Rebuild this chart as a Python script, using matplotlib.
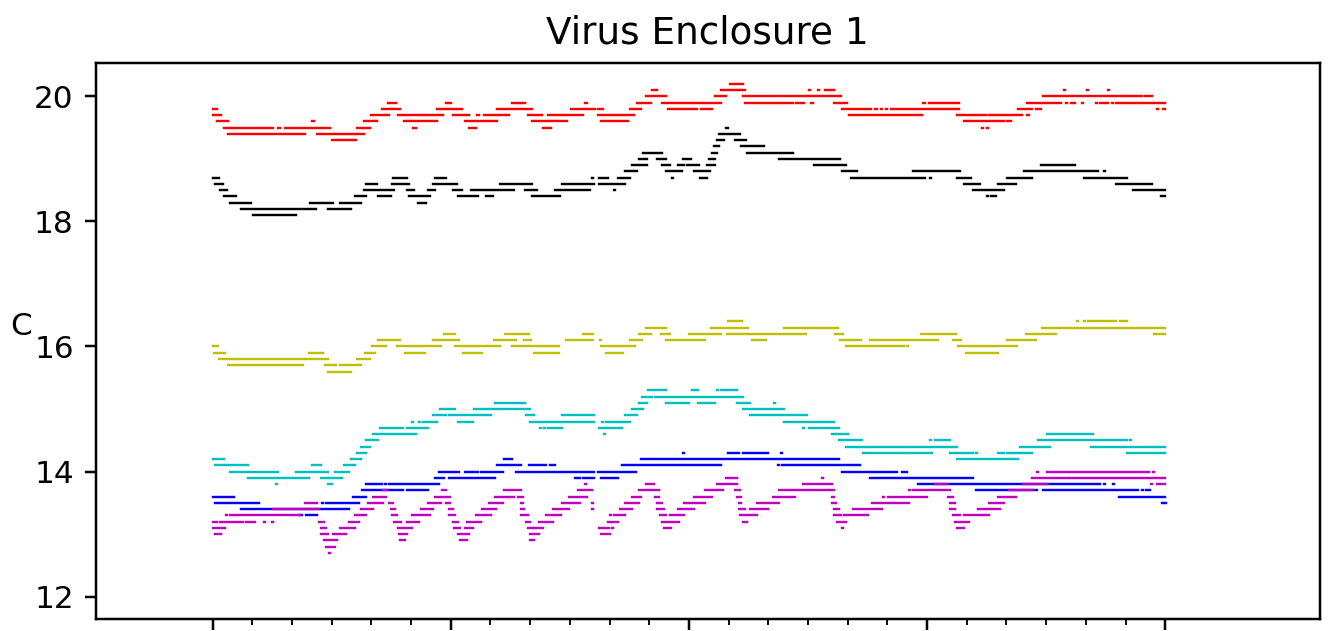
import matplotlib
matplotlib.use("Agg")
import matplotlib.pyplot as plt

# Time axis in hours since start (4 days); temperatures in degrees C.
# Each run: (start_hour, end_hour, temperature) of a stretch of readings at one level.
TITLE = "Virus Enclosure 1"
YLABEL = "C"
Y_TICKS = [12, 14, 16, 18, 20]
X_MAJOR = [0, 24, 48, 72, 96]
X_MINOR = [h for h in range(4, 96, 4) if h % 24 != 0]

RED_RUNS = [
    (0, 0.4, 19.8), (0, 0.8, 19.7), (0.4, 1.6, 19.6),
    (1.1, 5.4, 19.5), (5.6, 6.1, 19.5), (6.6, 6.8, 19.5), (7.3, 11.8, 19.5),
    (1.6, 9.3, 19.4), (10.0, 10.2, 19.6), (10.5, 15.3, 19.4),
    (12.0, 13.2, 19.3), (13.4, 14.1, 19.3), (14.3, 14.5, 19.3),
    (14.1, 14.2, 19.5), (14.6, 15.9, 19.5), (15.3, 16.6, 19.6), (16.0, 17.8, 19.7),
    (17.1, 18.9, 19.8), (17.7, 18.5, 19.9), (18.7, 23.2, 19.7), (19.3, 22.6, 19.6),
    (20.2, 20.5, 19.5), (22.6, 25.1, 19.8), (23.5, 24.0, 19.9), (24.2, 25.8, 19.7),
    (25.4, 28.1, 19.6), (25.8, 26.5, 19.5), (26.6, 26.8, 19.7), (27.4, 29.5, 19.7),
    (29.7, 29.9, 19.7), (28.3, 28.7, 19.6), (28.7, 32.2, 19.8), (30.2, 31.5, 19.9),
    (31.8, 33.2, 19.7), (33.8, 35.0, 19.7), (35.2, 37.3, 19.7), (32.2, 35.7, 19.6),
    (33.3, 34.1, 19.5), (36.1, 38.5, 19.8), (37.5, 37.7, 19.9), (38.8, 39.3, 19.8),
    (38.8, 40.7, 19.7), (40.9, 42.5, 19.7), (39.1, 41.9, 19.6), (42.1, 43.2, 19.8),
    (42.8, 44.2, 19.9), (43.7, 45.7, 20.0), (44.3, 44.8, 20.1), (45.3, 51.2, 19.9),
    (45.9, 48.8, 19.8), (49.2, 50.3, 19.8), (50.6, 51.7, 20.0), (51.2, 53.7, 20.1),
    (52.1, 53.5, 20.2), (53.7, 58.5, 19.9), (58.8, 59.6, 19.9), (60.3, 60.5, 19.9),
    (53.5, 63.3, 20.0), (60.1, 60.2, 20.1), (61.0, 61.1, 20.1), (61.7, 62.6, 20.1),
    (62.6, 63.9, 19.9), (63.4, 66.4, 19.8), (66.8, 67.0, 19.8), (67.4, 67.5, 19.8),
    (67.9, 68.0, 19.8), (68.4, 68.5, 19.8), (68.6, 75.2, 19.8), (64.1, 71.5, 19.7),
    (71.6, 71.8, 19.9), (72.2, 75.2, 19.9), (75.0, 77.9, 19.7), (78.2, 79.1, 19.7),
    (79.4, 81.6, 19.7), (82.1, 82.3, 19.7), (75.7, 79.8, 19.6), (80.1, 80.5, 19.6),
    (77.5, 77.6, 19.5), (78.0, 78.1, 19.5), (79.1, 79.2, 19.5), (81.2, 82.6, 19.8),
    (83.0, 83.5, 19.8), (82.1, 85.5, 19.9), (86.0, 86.1, 19.9), (86.5, 86.9, 19.9),
    (87.6, 87.7, 19.9), (89.0, 89.1, 19.9), (89.4, 90.2, 19.9), (90.6, 90.7, 19.9),
    (91.0, 96.0, 19.9), (83.7, 92.0, 20.0), (92.2, 93.7, 20.0), (94.0, 94.7, 20.0),
    (85.8, 85.9, 20.1), (88.1, 88.2, 20.1), (90.2, 90.3, 20.1), (95.2, 95.3, 19.8),
    (95.8, 96.0, 19.8),
]

BLACK_RUNS = [
    (0, 0.6, 18.7), (0.2, 1.0, 18.6), (0.7, 1.5, 18.5), (1.1, 2.4, 18.4),
    (1.8, 3.9, 18.3), (2.9, 10.4, 18.2), (4.1, 8.4, 18.1), (9.8, 12.1, 18.3),
    (12.8, 15.0, 18.3), (11.6, 13.9, 18.2),
    (14.4, 15.5, 18.4), (16.7, 18.0, 18.4), (19.8, 21.9, 18.4), (24.7, 26.7, 18.4),
    (27.1, 27.2, 18.4), (27.6, 28.3, 18.4), (32.2, 35.0, 18.4), (20.7, 21.5, 18.3),
    (15.3, 18.3, 18.5), (19.6, 20.3, 18.5), (21.7, 22.4, 18.5), (24.2, 25.1, 18.5),
    (26.0, 30.4, 18.5), (31.5, 32.7, 18.5), (34.5, 38.0, 18.5), (40.5, 40.6, 18.5),
    (15.5, 16.6, 18.6), (18.1, 19.8, 18.6), (22.2, 24.6, 18.6), (29.0, 32.2, 18.6),
    (35.2, 38.4, 18.6), (38.9, 41.6, 18.6),
    (18.2, 19.6, 18.7), (22.4, 23.5, 18.7), (38.2, 38.3, 18.7), (38.9, 39.8, 18.7),
    (40.9, 42.1, 18.7), (46.3, 46.4, 18.7), (49.1, 49.8, 18.7),
    (41.6, 42.8, 18.8), (45.7, 47.3, 18.8), (48.5, 50.1, 18.8),
    (42.3, 43.8, 18.9), (45.3, 46.1, 18.9), (46.9, 47.5, 18.9), (47.8, 49.0, 18.9),
    (49.8, 50.6, 18.9), (43.0, 43.8, 19.0), (44.8, 45.7, 19.0), (47.4, 48.2, 19.0),
    (50.0, 50.6, 19.0), (43.4, 45.3, 19.1), (50.3, 50.8, 19.1), (50.5, 51.0, 19.2),
    (53.3, 55.6, 19.2), (50.8, 51.5, 19.3), (52.6, 53.8, 19.3), (51.0, 53.1, 19.4),
    (51.7, 51.9, 19.5), (53.9, 58.5, 19.1), (57.1, 63.2, 19.0), (60.6, 61.1, 18.9),
    (61.3, 63.8, 18.9), (63.4, 64.9, 18.8), (70.6, 75.3, 18.8),
    (64.3, 71.8, 18.7), (72.3, 72.4, 18.7), (75.0, 76.4, 18.7), (80.1, 82.6, 18.7),
    (87.8, 92.2, 18.7), (75.7, 77.3, 18.6), (79.1, 81.0, 18.6), (91.0, 94.7, 18.6),
    (76.6, 79.8, 18.5), (92.8, 96.0, 18.5), (78.0, 78.1, 18.4), (78.4, 78.9, 18.4),
    (95.6, 96.0, 18.4), (81.8, 89.2, 18.8), (89.8, 89.9, 18.8), (83.5, 86.9, 18.9),
]

YELLOW_RUNS = [
    (0, 0.5, 16.0), (0.1, 1.3, 15.9), (0.6, 11.6, 15.8), (1.6, 9.1, 15.7),
    (9.7, 11.1, 15.9), (11.3, 12.4, 15.7), (12.8, 15.0, 15.7), (11.6, 13.9, 15.6),
    (14.6, 15.9, 15.8), (15.4, 16.4, 15.9), (16.1, 17.5, 16.0), (16.7, 18.9, 16.1),
    (18.6, 23.0, 16.0), (19.4, 21.4, 15.9), (23.3, 24.4, 16.2), (22.2, 24.8, 16.1),
    (24.4, 29.0, 16.0), (25.2, 27.1, 15.9), (29.5, 31.9, 16.2), (28.4, 30.6, 16.1),
    (31.4, 32.1, 16.1), (30.2, 34.9, 16.0), (32.4, 34.6, 15.9), (34.8, 34.9, 15.9),
    (35.6, 38.3, 16.1), (39.0, 39.1, 16.1), (37.3, 38.3, 16.2), (39.1, 42.6, 16.0),
    (39.6, 41.4, 15.9), (42.1, 43.3, 16.1), (43.0, 44.2, 16.2), (43.7, 45.7, 16.3),
    (45.2, 46.1, 16.2), (48.0, 51.2, 16.2), (45.7, 49.6, 16.1), (50.2, 54.0, 16.3),
    (51.9, 53.4, 16.4), (51.8, 59.8, 16.2), (54.4, 55.8, 16.1), (57.6, 63.0, 16.3),
    (62.7, 63.5, 16.2), (63.2, 65.3, 16.1), (66.3, 73.1, 16.1), (63.8, 69.7, 16.0),
    (70.0, 70.1, 16.0), (71.4, 74.9, 16.2), (74.6, 75.4, 16.1), (75.1, 81.1, 16.0),
    (75.9, 79.1, 15.9), (80.1, 83.0, 16.1), (82.0, 85.0, 16.2), (83.6, 96.0, 16.3),
    (87.1, 87.2, 16.4), (87.8, 87.9, 16.4), (88.2, 91.0, 16.4), (91.4, 92.1, 16.4),
    (94.9, 95.0, 16.2), (95.1, 96.0, 16.2),
]

CYAN_RUNS = [
    (0, 1.1, 14.2), (0.2, 3.6, 14.1), (1.1, 1.2, 14.0), (1.8, 6.6, 14.0),
    (3.6, 9.7, 13.9), (6.4, 6.5, 13.8), (11.6, 12.0, 13.8), (8.4, 9.1, 14.0),
    (9.3, 11.6, 14.0), (12.3, 13.7, 14.0), (10.0, 10.9, 14.1), (13.2, 14.4, 14.1),
    (10.9, 13.0, 13.9), (13.9, 15.0, 14.2), (14.6, 15.5, 14.3), (15.0, 15.9, 14.4),
    (15.5, 16.7, 14.5), (16.2, 20.5, 14.6), (16.9, 19.2, 14.7), (19.6, 21.7, 14.7),
    (20.1, 20.2, 14.8), (20.8, 20.9, 14.8), (21.2, 22.6, 14.8), (24.7, 26.2, 14.8),
    (22.2, 23.5, 14.9), (23.8, 28.1, 14.9), (22.9, 24.4, 15.0), (26.3, 32.0, 15.0),
    (28.5, 31.5, 15.1), (31.6, 32.4, 14.9), (35.2, 38.4, 14.9), (41.6, 42.8, 14.9),
    (32.0, 38.4, 14.8), (39.2, 39.3, 14.8), (39.6, 42.1, 14.8), (33.0, 33.1, 14.7),
    (33.4, 33.5, 14.7), (33.8, 35.2, 14.7), (38.9, 41.3, 14.7), (39.4, 39.5, 14.6),
    (42.3, 43.4, 15.0), (43.0, 43.8, 15.1), (45.7, 48.0, 15.1), (48.9, 50.6, 15.1),
    (52.8, 54.2, 15.1), (56.6, 56.7, 15.1), (43.3, 44.3, 15.2), (44.6, 53.5, 15.2),
    (43.9, 45.7, 15.3), (48.3, 48.9, 15.3), (50.8, 50.9, 15.3), (51.2, 51.7, 15.3),
    (51.9, 52.8, 15.3), (53.5, 57.6, 15.0), (54.2, 59.9, 14.9), (57.6, 62.6, 14.8),
    (59.5, 59.6, 14.7), (60.1, 63.1, 14.7), (62.4, 64.0, 14.6), (84.1, 88.7, 14.6),
    (63.1, 65.4, 14.5), (72.3, 72.4, 14.5), (72.8, 74.3, 14.5), (83.2, 85.3, 14.5),
    (85.5, 92.2, 14.5), (92.5, 92.6, 14.5), (63.8, 70.2, 14.4), (70.4, 75.0, 14.4),
    (81.4, 84.4, 14.4), (88.5, 95.1, 14.4), (95.3, 96.0, 14.4), (65.5, 65.6, 14.3),
    (65.8, 72.5, 14.3), (74.3, 76.6, 14.3), (76.9, 77.0, 14.3), (79.1, 79.8, 14.3),
    (80.1, 82.6, 14.3), (92.2, 96.0, 14.3), (75.0, 81.2, 14.2),
]

BLUE_RUNS = [
    (0, 2.2, 13.6), (0.2, 4.7, 13.5), (2.9, 13.7, 13.4), (8.7, 9.0, 13.3),
    (9.4, 10.5, 13.3), (11.0, 11.1, 13.5), (11.4, 14.8, 13.5), (14.1, 15.5, 13.6),
    (15.1, 19.2, 13.7), (19.6, 20.1, 13.7), (20.3, 21.7, 13.7), (15.5, 17.1, 13.8),
    (17.4, 17.5, 13.8), (17.8, 22.8, 13.8), (22.4, 23.3, 13.9), (23.8, 28.5, 13.9),
    (36.5, 37.0, 13.9), (37.3, 38.4, 13.9), (39.1, 40.9, 13.9), (22.8, 24.8, 14.0),
    (25.4, 26.7, 14.0), (27.0, 29.3, 14.0), (30.6, 38.4, 14.0), (38.8, 42.7, 14.0),
    (28.7, 31.1, 14.1), (31.9, 33.6, 14.1), (34.0, 34.5, 14.1), (41.3, 51.2, 14.1),
    (29.4, 30.2, 14.2), (43.2, 63.1, 14.2), (47.4, 47.5, 14.3), (51.9, 53.0, 14.3),
    (53.5, 56.0, 14.3), (57.3, 57.4, 14.3), (57.0, 57.1, 14.1), (57.4, 65.2, 14.1),
    (63.4, 69.0, 14.0), (69.5, 70.0, 14.0), (66.3, 76.6, 13.9), (71.1, 89.4, 13.8),
    (89.8, 89.9, 13.8), (90.7, 90.8, 13.8), (76.9, 83.1, 13.7), (83.7, 84.2, 13.7),
    (84.4, 93.3, 13.7), (93.7, 93.8, 13.7), (94.1, 94.5, 13.7), (91.3, 96.0, 13.6),
    (95.7, 95.8, 13.5), (96.0, 96.1, 13.5),
]

MAGENTA_RUNS = [
    (0, 0.4, 13.2), (0.7, 3.1, 13.2), (3.4, 4.3, 13.2), (5.2, 5.3, 13.2), (6.0, 6.1, 13.2),
    (0, 1.3, 13.1), (0.2, 0.8, 13.0), (1.4, 1.5, 13.3), (1.8, 8.8, 13.3),
    (6.1, 10.7, 13.4), (9.3, 10.5, 13.5), (10.7, 11.2, 13.2), (10.9, 11.4, 13.1),
    (10.9, 11.6, 13.0), (11.2, 11.6, 12.9), (11.8, 12.5, 12.9), (11.4, 12.3, 12.8),
    (11.7, 11.8, 12.7), (12.1, 13.4, 13.0), (12.8, 14.4, 13.1), (13.7, 14.8, 13.2),
    (14.4, 15.5, 13.3), (15.0, 16.2, 13.4), (15.7, 17.2, 13.5), (16.2, 17.5, 13.6),
    (17.2, 17.6, 13.7), (17.8, 18.2, 13.5), (18.0, 18.4, 13.4), (18.1, 18.6, 13.3),
    (18.3, 19.0, 13.2), (19.6, 20.8, 13.2), (18.7, 20.1, 13.1), (18.8, 19.6, 13.0),
    (18.9, 19.4, 12.9), (20.1, 21.9, 13.3), (21.0, 22.2, 13.4), (21.7, 23.0, 13.5),
    (22.4, 23.9, 13.6), (23.1, 23.5, 13.7), (23.5, 23.9, 13.5), (23.8, 24.2, 13.4),
    (23.8, 24.4, 13.3), (24.2, 24.7, 13.2), (25.6, 27.0, 13.2), (24.3, 24.9, 13.1),
    (25.4, 26.2, 13.1), (24.7, 25.8, 13.0), (24.9, 25.6, 12.9), (26.5, 28.1, 13.3),
    (27.2, 28.6, 13.4), (27.9, 29.3, 13.5), (28.5, 30.4, 13.6), (29.4, 31.1, 13.7),
    (30.8, 31.3, 13.6), (31.1, 31.3, 13.5), (31.1, 31.4, 13.4), (31.1, 31.8, 13.3),
    (31.6, 32.0, 13.2), (32.9, 34.3, 13.2), (31.8, 32.3, 13.1), (32.4, 33.3, 13.1),
    (32.0, 32.9, 13.0), (32.0, 32.4, 12.9), (33.6, 35.1, 13.3), (34.3, 35.9, 13.4),
    (35.2, 37.0, 13.5), (35.9, 37.7, 13.6), (36.8, 38.2, 13.7), (37.5, 37.6, 13.8),
    (38.2, 38.3, 13.5), (38.2, 38.3, 13.4), (38.9, 39.3, 13.1), (39.5, 39.9, 13.1),
    (40.3, 40.4, 13.1), (39.1, 40.0, 13.0), (39.8, 40.9, 13.2), (40.0, 40.1, 13.3),
    (40.5, 41.6, 13.3), (41.1, 42.3, 13.4), (41.6, 43.0, 13.5), (42.3, 43.2, 13.6),
    (43.0, 45.0, 13.7), (43.7, 44.5, 13.8), (44.6, 45.0, 13.6), (44.8, 45.3, 13.5),
    (44.8, 45.5, 13.4), (45.1, 45.7, 13.3), (46.1, 47.5, 13.3), (45.3, 47.0, 13.2),
    (45.5, 46.2, 13.1), (46.9, 48.5, 13.4), (47.5, 49.6, 13.5), (48.5, 50.3, 13.6),
    (49.6, 51.4, 13.7), (52.6, 53.1, 13.7), (50.8, 52.8, 13.8), (51.7, 52.8, 13.9),
    (52.8, 53.3, 13.6), (53.0, 53.3, 13.5), (53.0, 53.7, 13.4), (53.2, 54.9, 13.3),
    (53.5, 53.9, 13.2), (54.2, 56.0, 13.4), (54.9, 57.1, 13.5), (56.5, 58.7, 13.6),
    (57.1, 62.0, 13.7), (62.2, 62.6, 13.7), (59.5, 62.4, 13.8), (61.4, 61.5, 13.9),
    (62.4, 62.6, 13.6), (62.4, 62.8, 13.5), (62.6, 63.1, 13.4), (62.6, 63.3, 13.3),
    (62.9, 63.8, 13.2), (63.4, 63.5, 13.1), (63.6, 66.0, 13.3), (64.5, 67.5, 13.4),
    (66.5, 70.2, 13.5), (67.6, 67.7, 13.6), (68.1, 72.0, 13.6), (70.2, 70.3, 13.7),
    (70.6, 74.3, 13.7), (72.8, 74.0, 13.8), (74.1, 74.6, 13.6), (74.3, 74.8, 13.5),
    (74.3, 74.8, 13.4), (74.6, 75.3, 13.3), (74.8, 75.3, 13.2), (75.5, 76.2, 13.2),
    (75.0, 75.7, 13.1), (75.7, 78.2, 13.3), (77.1, 79.4, 13.4), (78.2, 79.8, 13.5),
    (79.1, 81.0, 13.6), (80.3, 82.6, 13.7), (81.7, 84.1, 13.8), (82.6, 86.2, 13.9),
    (86.4, 96.0, 13.9), (83.1, 83.2, 14.0), (84.1, 93.1, 14.0), (93.3, 94.4, 14.0),
    (94.8, 94.9, 14.0), (94.6, 94.7, 13.8), (95.2, 96.0, 13.8),
]

SERIES = [
    (RED_RUNS, "r"),
    (BLACK_RUNS, "k"),
    (YELLOW_RUNS, "y"),
    (CYAN_RUNS, "c"),
    (BLUE_RUNS, "b"),
    (MAGENTA_RUNS, "m"),
]

S = 1.75  # scale from points at this dpi to the reference's apparent size
DPI = 128
fig = plt.figure(figsize=(1329 / DPI, 631 / DPI), dpi=DPI)
ax = fig.add_axes([95.5 / 1329, 1 - 619.3 / 631, 1224.5 / 1329, (619.3 - 62.5) / 631])

for runs, color in SERIES:
    starts = [r[0] for r in runs]
    ends = [r[1] for r in runs]
    temps = [r[2] for r in runs]
    ax.hlines(temps, starts, ends, colors=color, linewidth=1.35, capstyle="projecting")

ax.set_xlim(-11.8, 111.6)
ax.set_ylim(11.639, 20.540)
ax.set_yticks(Y_TICKS)
ax.set_yticklabels([str(v) for v in Y_TICKS])
ax.set_xticks(X_MAJOR)
ax.set_xticks(X_MINOR, minor=True)
ax.set_xticklabels([])
ax.tick_params(axis="both", which="major", length=3.5 * S, width=0.8 * S, labelsize=10 * S, pad=3.5 * S)
ax.tick_params(axis="both", which="minor", length=2 * S, width=0.6 * S)
for sp in ax.spines.values():
    sp.set_linewidth(0.8 * S)

ax.set_title(TITLE, fontsize=12 * S, pad=6 * S)
ax.set_ylabel(YLABEL, rotation=0, fontsize=10 * S, labelpad=4 * S)

fig.savefig("out.png", dpi=DPI)
